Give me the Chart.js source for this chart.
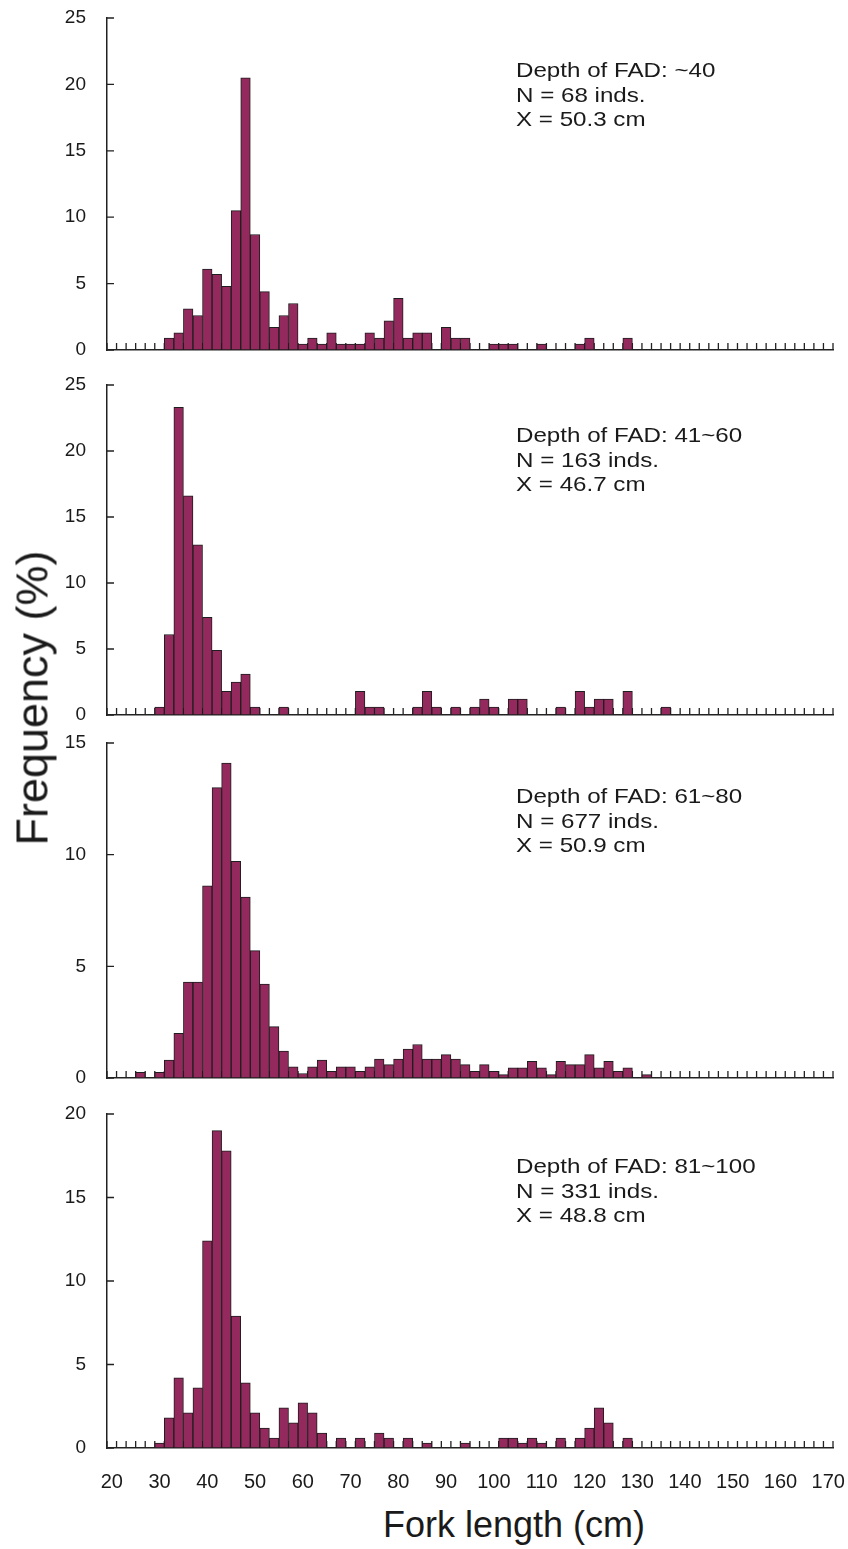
<!DOCTYPE html>
<html>
<head>
<meta charset="utf-8">
<script src="https://cdn.jsdelivr.net/npm/chart.js@4/dist/chart.umd.min.js"></script>
<style>
  body { margin: 0; background: #fff; }
  #wrap { position: relative; width: 848px; height: 1549px; font-family: "Liberation Sans", Arial, sans-serif; color: #1a1a1a; }
  #wrap canvas { position: absolute; left: 0; }
  .note { position: absolute; left: 516px; font-size: 21px; line-height: 24.5px; white-space: nowrap; transform: scaleX(1.15); transform-origin: 0 0; }
  #ytitle { position: absolute; left: 32px; top: 698px; font-size: 45px; line-height: 1; white-space: nowrap; transform: translate(-50%, -50%) rotate(-90deg); }
  #xtitle { position: absolute; left: 514px; top: 1525px; font-size: 36px; line-height: 1; white-space: nowrap; transform: translate(-50%, -50%); }
</style>
</head>
<body>
<div id="wrap">
  <canvas id="c1"></canvas>
  <canvas id="c2"></canvas>
  <canvas id="c3"></canvas>
  <canvas id="c4"></canvas>
  <div class="note" style="top:58px">Depth of FAD: ~40<br>N = 68 inds.<br>X = 50.3 cm</div>
  <div class="note" style="top:423px">Depth of FAD: 41~60<br>N = 163 inds.<br>X = 46.7 cm</div>
  <div class="note" style="top:784px">Depth of FAD: 61~80<br>N = 677 inds.<br>X = 50.9 cm</div>
  <div class="note" style="top:1154px">Depth of FAD: 81~100<br>N = 331 inds.<br>X = 48.8 cm</div>
  <div id="ytitle">Frequency (%)</div>
  <div id="xtitle">Fork length (cm)</div>
</div>
<script>
// fork length classes (cm), 2 cm bins
const lengths = [20, 22, 24, 26, 28, 30, 32, 34, 36, 38, 40, 42, 44, 46, 48, 50, 52, 54, 56, 58,
  60, 62, 64, 66, 68, 70, 72, 74, 76, 78, 80, 82, 84, 86, 88, 90, 92, 94, 96, 98,
  100, 102, 104, 106, 108, 110, 112, 114, 116, 118, 120, 122, 124, 126, 128, 130, 132, 134, 136, 138,
  140, 142, 144, 146, 148, 150, 152, 154, 156, 158, 160, 162, 164, 166, 168, 170];

// frequency (%) per class, one array per FAD depth
const fad40 = [0, 0, 0, 0, 0, 0, 0.9, 1.3, 3.1, 2.6, 6.1, 5.7, 4.8, 10.5, 20.5, 8.7, 4.4, 1.7, 2.6, 3.5,
  0.44, 0.9, 0.44, 1.3, 0.44, 0.44, 0.44, 1.3, 0.9, 2.2, 3.9, 0.9, 1.3, 1.3, 0, 1.7, 0.9, 0.9, 0, 0,
  0.44, 0.44, 0.44, 0, 0, 0.44, 0, 0, 0, 0.44, 0.9, 0, 0, 0, 0.9, 0, 0, 0, 0, 0,
  0, 0, 0, 0, 0, 0, 0, 0, 0, 0, 0, 0, 0, 0, 0, 0];
const fad60 = [0, 0, 0, 0, 0, 0.6, 6.1, 23.3, 16.6, 12.9, 7.4, 4.9, 1.8, 2.5, 3.1, 0.6, 0, 0, 0.6, 0,
  0, 0, 0, 0, 0, 0, 1.8, 0.6, 0.6, 0, 0, 0, 0.6, 1.8, 0.6, 0, 0.6, 0, 0.6, 1.2,
  0.6, 0, 1.2, 1.2, 0, 0, 0, 0.6, 0, 1.8, 0.6, 1.2, 1.2, 0, 1.8, 0, 0, 0, 0.6, 0,
  0, 0, 0, 0, 0, 0, 0, 0, 0, 0, 0, 0, 0, 0, 0, 0];
const fad80 = [0, 0, 0, 0.25, 0, 0.25, 0.8, 2.0, 4.3, 4.3, 8.6, 13.0, 14.1, 9.7, 8.1, 5.7, 4.2, 2.3, 1.2, 0.5,
  0.2, 0.5, 0.8, 0.3, 0.5, 0.5, 0.3, 0.5, 0.85, 0.6, 0.85, 1.3, 1.5, 0.85, 0.85, 1.05, 0.85, 0.6, 0.3, 0.6,
  0.3, 0.15, 0.45, 0.45, 0.75, 0.45, 0.15, 0.75, 0.6, 0.6, 1.05, 0.45, 0.75, 0.3, 0.45, 0, 0.15, 0, 0, 0,
  0, 0, 0, 0, 0, 0, 0, 0, 0, 0, 0, 0, 0, 0, 0, 0];
const fad100 = [0, 0, 0, 0, 0, 0.3, 1.8, 4.2, 2.1, 3.6, 12.4, 19.0, 17.8, 7.9, 3.9, 2.1, 1.2, 0.6, 2.4, 1.5,
  2.7, 2.1, 0.9, 0, 0.6, 0, 0.6, 0, 0.9, 0.6, 0, 0.6, 0, 0.3, 0, 0, 0, 0.3, 0, 0,
  0, 0.6, 0.6, 0.3, 0.6, 0.3, 0, 0.6, 0, 0.6, 1.2, 2.4, 1.5, 0, 0.6, 0, 0, 0, 0, 0,
  0, 0, 0, 0, 0, 0, 0, 0, 0, 0, 0, 0, 0, 0, 0, 0];

const yMaxes = [25, 25, 15, 20];

Chart.defaults.font.family = '"Liberation Sans", Arial, sans-serif';
Chart.defaults.color = '#1a1a1a';

// tick marks pointing into the plot, drawn under the bars
const insideTicks = {
  id: 'insideTicks',
  beforeDatasetsDraw(chart) {
    const { ctx, scales: { x, y } } = chart;
    const n = x.getLabels().length;
    const w = (x.right - x.left) / n;
    ctx.save();
    ctx.strokeStyle = '#222';
    ctx.lineWidth = 1.3;
    ctx.beginPath();
    for (let i = 0; i <= n; i++) {
      const px = x.left + i * w;
      ctx.moveTo(px, y.bottom);
      ctx.lineTo(px, y.bottom - 7);
    }
    y.ticks.forEach(t => {
      const py = y.getPixelForValue(t.value);
      ctx.moveTo(x.left, py);
      ctx.lineTo(x.left + 7, py);
    });
    ctx.stroke();
    ctx.restore();
  }
};

// layout padding does the spacing, so drop the label overflow padding
function noOverflow(s) {
  s.paddingTop = 0;
  s.paddingBottom = 0;
  s.paddingLeft = 0;
  s.paddingRight = 0;
}

function makePanel(id, values, yMax, top, bottom, showX) {
  const canvas = document.getElementById(id);
  const extra = showX ? 50 : 10;
  canvas.width = 848;
  canvas.height = bottom - top + 14 + extra;
  canvas.style.top = (top - 14) + 'px';

  new Chart(canvas, {
    type: 'bar',
    data: {
      labels: lengths,
      datasets: [{
        data: values,
        backgroundColor: '#93295c',
        borderColor: '#1e1e1e',
        borderWidth: 1,
        borderSkipped: false,
        barPercentage: 1,
        categoryPercentage: 1
      }]
    },
    options: {
      responsive: false,
      animation: false,
      events: [],
      layout: { padding: { top: 14, right: 15, bottom: showX ? 0 : 10, left: 0 } },
      plugins: { legend: { display: false }, tooltip: { enabled: false } },
      scales: {
        x: {
          grid: { display: false, drawTicks: false },
          border: { display: true, color: '#222', width: 1.5 },
          ticks: {
            display: showX,
            autoSkip: false,
            maxRotation: 0,
            padding: 22,
            font: { size: 20 },
            callback(v) {
              const l = this.getLabelForValue(v);
              return l % 10 === 0 ? l : '';
            }
          },
          afterFit(s) {
            s.height = showX ? 50 : 0;
            noOverflow(s);
          }
        },
        y: {
          min: 0,
          max: yMax,
          grid: { display: false, drawTicks: false },
          border: { display: true, color: '#222', width: 1.5 },
          ticks: { stepSize: 5, padding: 21, font: { size: 19 } },
          afterFit(s) {
            s.width = 107;
            noOverflow(s);
          }
        }
      }
    },
    plugins: [insideTicks]
  });
}

makePanel('c1', fad40, yMaxes[0], 18, 350, false);
makePanel('c2', fad60, yMaxes[1], 385, 715, false);
makePanel('c3', fad80, yMaxes[2], 743, 1078, false);
makePanel('c4', fad100, yMaxes[3], 1114, 1448, true);
</script>
</body>
</html>
